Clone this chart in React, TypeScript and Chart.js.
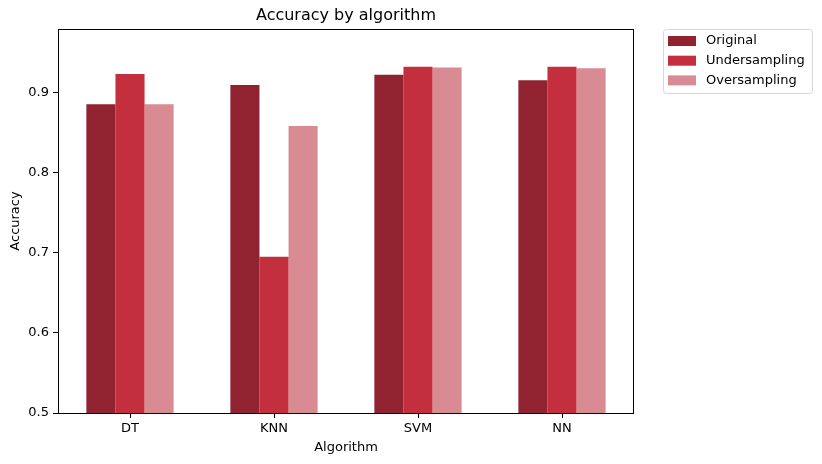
import React, { useEffect, useRef } from "react";
import { Chart, registerables } from "chart.js";

Chart.register(...registerables);

const TITLE = "Accuracy by algorithm";
const X_LABEL = "Algorithm";
const Y_LABEL = "Accuracy";
const CATEGORIES = ["DT", "KNN", "SVM", "NN"];
const SERIES_NAMES = ["Original", "Undersampling", "Oversampling"];
const ORIGINAL = [0.885, 0.909, 0.922, 0.915];
const UNDERSAMPLING = [0.923, 0.695, 0.932, 0.932];
const OVERSAMPLING = [0.885, 0.858, 0.931, 0.93];
const COLORS = ["#91222f", "#c32f3c", "#d98b93"];
const Y_MIN = 0.5;
const Y_MAX = 0.979;
const Y_STEP = 0.1;

const FONT = "'DejaVu Sans', sans-serif";

const framePlugin = {
  id: "frameAndTitle",
  afterDraw(chart: any) {
    const { ctx, chartArea } = chart;
    ctx.save();
    ctx.strokeStyle = "#000";
    ctx.lineWidth = 1;
    ctx.strokeRect(
      Math.round(chartArea.left) + 0.5,
      Math.round(chartArea.top) + 0.5,
      Math.round(chartArea.right - chartArea.left) - 1,
      Math.round(chartArea.bottom - chartArea.top)
    );
    ctx.fillStyle = "#000";
    ctx.font = `16px ${FONT}`;
    ctx.textAlign = "center";
    ctx.textBaseline = "middle";
    ctx.fillText(TITLE, (chartArea.left + chartArea.right) / 2, 16);

    const bx = 663.5, by = 29.5, bw = 149, bh = 64, r = 3;
    ctx.beginPath();
    ctx.moveTo(bx + r, by);
    ctx.lineTo(bx + bw - r, by);
    ctx.arcTo(bx + bw, by, bx + bw, by + r, r);
    ctx.lineTo(bx + bw, by + bh - r);
    ctx.arcTo(bx + bw, by + bh, bx + bw - r, by + bh, r);
    ctx.lineTo(bx + r, by + bh);
    ctx.arcTo(bx, by + bh, bx, by + bh - r, r);
    ctx.lineTo(bx, by + r);
    ctx.arcTo(bx, by, bx + r, by, r);
    ctx.closePath();
    ctx.fillStyle = "rgba(255,255,255,0.8)";
    ctx.fill();
    ctx.strokeStyle = "#d6d6d6";
    ctx.stroke();
    ctx.font = `13px ${FONT}`;
    ctx.textAlign = "left";
    SERIES_NAMES.forEach((name, i) => {
      const cy = 41 + i * 19.7;
      ctx.fillStyle = COLORS[i];
      ctx.fillRect(668, cy - 5, 28, 10);
      ctx.fillStyle = "#000";
      ctx.fillText(name, 706, cy);
    });
    ctx.restore();
  },
};

export default function App() {
  const ref = useRef<HTMLCanvasElement | null>(null);
  useEffect(() => {
    if (!ref.current) return;
    const values = [ORIGINAL, UNDERSAMPLING, OVERSAMPLING];
    const chart = new Chart(ref.current, {
      type: "bar",
      data: {
        labels: CATEGORIES,
        datasets: SERIES_NAMES.map((name, i) => ({
          label: name,
          data: values[i],
          backgroundColor: COLORS[i],
          borderWidth: 0,
          categoryPercentage: 0.606,
          barPercentage: 1,
        })),
      },
      options: {
        animation: false,
        responsive: false,
        devicePixelRatio: 1,
        layout: { padding: { left: 0, right: 188, top: 29, bottom: 0 } },
        plugins: {
          legend: { display: false },
          title: { display: false },
          tooltip: { enabled: false },
        },
        scales: {
          x: {
            offset: true,
            grid: {
              offset: false,
              drawOnChartArea: false,
              drawTicks: true,
              tickLength: 5,
              tickColor: "#000",
              color: "#000",
            },
            border: { display: false },
            ticks: {
              color: "#000",
              font: { family: FONT, size: 13 },
              padding: 3,
              maxRotation: 0,
            },
            title: {
              display: true,
              text: X_LABEL,
              color: "#000",
              font: { family: FONT, size: 13 },
              padding: { top: 0, bottom: 9 },
            },
            afterFit(scale: any) {
              scale.height = 51;
            },
          },
          y: {
            min: Y_MIN,
            max: Y_MAX,
            grid: {
              drawOnChartArea: false,
              drawTicks: true,
              tickLength: 5,
              tickColor: "#000",
              color: "#000",
            },
            border: { display: false },
            ticks: {
              stepSize: Y_STEP,
              includeBounds: false,
              color: "#000",
              font: { family: FONT, size: 13 },
              padding: 4,
              callback: (v: any) => Number(v).toFixed(1),
            },
            title: {
              display: true,
              text: Y_LABEL,
              color: "#000",
              font: { family: FONT, size: 13 },
              padding: { top: 8, bottom: 0 },
            },
            afterFit(scale: any) {
              scale.width = 58;
            },
          },
        },
      },
      plugins: [framePlugin],
    });
    return () => chart.destroy();
  }, []);
  return (
    <div style={{ position: "fixed", left: 0, top: 0, width: 822, height: 464, background: "#fff" }}>
      <canvas ref={ref} width={822} height={464} style={{ width: 822, height: 464 }} />
    </div>
  );
}
